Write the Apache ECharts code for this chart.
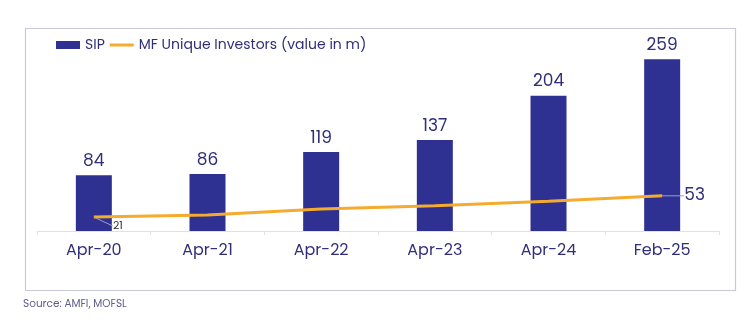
<!DOCTYPE html>
<html><head><meta charset="utf-8">
<script src="https://cdn.jsdelivr.net/npm/echarts@6/dist/echarts.min.js"></script>
<style>html,body{margin:0;padding:0;background:#fff}#c{width:750px;height:323px}</style>
</head><body><div id="c"></div>
<script>
const categories = ['Apr-20','Apr-21','Apr-22','Apr-23','Apr-24','Feb-25'];
const sipValues = [84, 86, 119, 137, 204, 259];
const investorValues = [21, 24, 33, 38, 45, 53];
const sourceText = 'Source: AMFI, MOFSL';

const navy = '#2e3192';
const textNavy = '#2f2f7a';
const orange = '#f4ab2e';
const font = 'Poppins, "Noto Sans", sans-serif';
const lastIdx = investorValues.length - 1;
const lineData = investorValues.map(function (v, i) {
  if (i === 0) return {value: v, label: {show: true, fontSize: 11, color: '#333'}};
  if (i === lastIdx) return {value: v, label: {show: true, fontSize: 17, color: textNavy}};
  return {value: v};
});
const chart = echarts.init(document.getElementById('c'));
chart.setOption({
  animation: false,
  textStyle: {fontFamily: font},
  grid: {left: 37, right: 31, top: 32, bottom: 92},
  legend: {
    left: 51, top: 33, itemGap: 5, itemWidth: 24, itemHeight: 8,
    textStyle: {color: textNavy, fontSize: 14, fontFamily: font},
    data: [
      {name: 'SIP', icon: 'rect'},
      {name: 'MF Unique Investors (value in m)', icon: 'path://M0,0 H24 V3 H0 Z', itemStyle: {color: orange}}
    ]
  },
  graphic: [
    {type: 'rect', left: 23, top: 26, shape: {width: 710, height: 262},
     style: {fill: 'none', stroke: '#c9c9d9', lineWidth: 1.2}, silent: true},
    {type: 'text', left: 23, top: 299,
     style: {text: sourceText, fill: '#5d5d8f', fontSize: 10.5, fontFamily: font}}
  ],
  xAxis: {
    type: 'category', data: categories,
    axisLine: {lineStyle: {color: '#e0e0e6'}},
    axisTick: {show: true, length: 4, lineStyle: {color: '#e0e0e6'}},
    axisLabel: {color: textNavy, fontSize: 16, margin: 12}
  },
  yAxis: {type: 'value', min: 0, max: 300, show: false, splitLine: {show: false}},
  series: [
    {name: 'SIP', type: 'bar', data: sipValues, barWidth: 36,
     itemStyle: {color: navy},
     label: {show: true, position: 'top', distance: 5, color: textNavy, fontSize: 17}},
    {name: 'MF Unique Investors (value in m)', type: 'line', data: lineData,
     symbol: 'circle', symbolSize: 0.1, showSymbol: true,
     lineStyle: {color: orange, width: 3}, itemStyle: {color: orange},
     label: {show: false, position: 'right', distance: 2},
     labelLine: {show: true, lineStyle: {color: '#9aa0c8', width: 1}},
     labelLayout: function (p) {
       if (p.dataIndex === 0) return {dx: 17, dy: 9};
       if (p.dataIndex === lastIdx) return {dx: 20, dy: 0};
       return {};
     }
    }
  ]
});
</script></body></html>
